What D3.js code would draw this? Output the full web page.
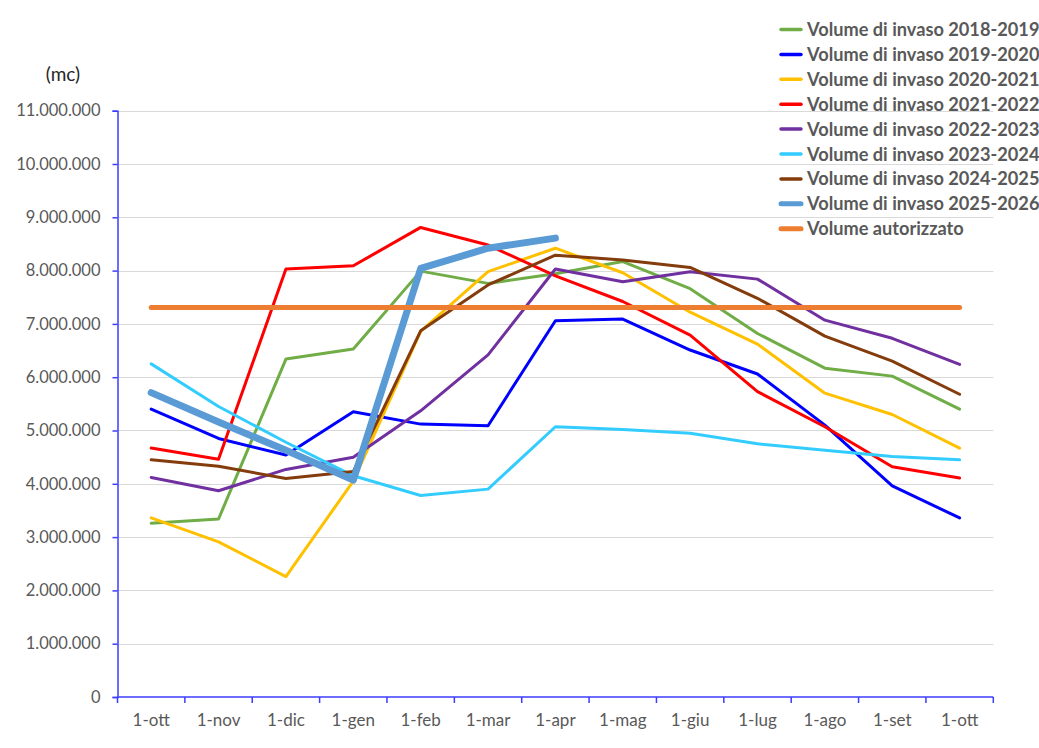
<!DOCTYPE html>
<html>
<head>
<meta charset="utf-8">
<title>Volume di invaso</title>
<script src="https://d3js.org/d3.v7.min.js"></script>
<style>
body { margin: 0; background: #fff; }
text { font-family: Lato, "Open Sans", sans-serif; fill: #595959; }
.line { fill: none; stroke-linejoin: round; stroke-linecap: round; }
</style>
</head>
<body>
<div id="chart"></div>
<script>

// categories (start of each month, october to october)
var months = ["1-ott", "1-nov", "1-dic", "1-gen", "1-feb", "1-mar", "1-apr",
              "1-mag", "1-giu", "1-lug", "1-ago", "1-set", "1-ott "];

// stored volume per season (mc)
var vol1819 = [3260000, 3340000, 6340000, 6530000, 7990000, 7760000, 7940000, 8170000, 7660000, 6820000, 6170000, 6020000, 5400000];
var vol1920 = [5400000, 4850000, 4540000, 5350000, 5120000, 5090000, 7060000, 7090000, 6510000, 6060000, 5100000, 3960000, 3360000];
var vol2021 = [3360000, 2910000, 2260000, 4050000, 6860000, 7980000, 8420000, 7960000, 7220000, 6620000, 5700000, 5300000, 4670000];
var vol2122 = [4670000, 4460000, 8030000, 8090000, 8810000, 8480000, 7900000, 7420000, 6790000, 5730000, 5070000, 4320000, 4110000];
var vol2223 = [4120000, 3870000, 4270000, 4500000, 5370000, 6420000, 8030000, 7790000, 7980000, 7840000, 7070000, 6730000, 6240000];
var vol2324 = [6250000, 5450000, 4780000, 4150000, 3780000, 3900000, 5070000, 5020000, 4950000, 4750000, 4630000, 4510000, 4450000];
var vol2425 = [4450000, 4330000, 4100000, 4230000, 6870000, 7730000, 8290000, 8200000, 8060000, 7480000, 6770000, 6300000, 5680000];
var vol2526 = [5710000, 5160000, 4630000, 4070000, 8040000, 8420000, 8610000];
var authorised = 7310000;

var seriesNames = ["Volume di invaso 2018-2019", "Volume di invaso 2019-2020", "Volume di invaso 2020-2021",
                   "Volume di invaso 2021-2022", "Volume di invaso 2022-2023", "Volume di invaso 2023-2024",
                   "Volume di invaso 2024-2025", "Volume di invaso 2025-2026", "Volume autorizzato"];

var series = [
  {name: seriesNames[0], values: vol1819, color: "#70ad47", width: 3},
  {name: seriesNames[1], values: vol1920, color: "#0000ff", width: 3},
  {name: seriesNames[2], values: vol2021, color: "#ffc000", width: 3},
  {name: seriesNames[3], values: vol2122, color: "#ff0000", width: 3},
  {name: seriesNames[4], values: vol2223, color: "#7030a0", width: 3},
  {name: seriesNames[5], values: vol2324, color: "#33ccff", width: 3},
  {name: seriesNames[6], values: vol2425, color: "#843c0c", width: 3},
  {name: seriesNames[7], values: vol2526, color: "#5b9bd5", width: 7},
  {name: seriesNames[8], values: months.map(function() { return authorised; }), color: "#ed7d31", width: 5}
];

var W = 1039, H = 748;

var svg = d3.select("#chart").append("svg")
    .attr("width", W)
    .attr("height", H)
    .style("display", "block");

svg.append("rect").attr("width", W).attr("height", H).attr("fill", "#fff");

// scales
var x = d3.scaleBand().domain(months).range([117.5, 993.3]).padding(0);
var y = d3.scaleLinear().domain([0, 11000000]).range([697, 110.7]);
function cx(i) { return x(months[i]) + x.bandwidth() / 2; }

var it = d3.formatLocale({decimal: ",", thousands: ".", grouping: [3], currency: ["", "€"]});
var fmt = it.format(",d");
var yTicks = d3.range(0, 11000001, 1000000);

// gridlines
svg.append("g")
  .selectAll("line")
  .data(yTicks.slice(1))
  .enter().append("line")
    .attr("x1", 117.5)
    .attr("x2", 993.3)
    .attr("y1", function(d) { return Math.round(y(d)) + 0.5; })
    .attr("y2", function(d) { return Math.round(y(d)) + 0.5; })
    .attr("stroke", "#d9d9d9")
    .attr("stroke-width", 1.2);

// y axis
var yAxis = svg.append("g")
    .attr("transform", "translate(117.5,0)")
    .call(d3.axisLeft(y).tickValues(yTicks).tickFormat(fmt).tickSize(5).tickPadding(12));
yAxis.select(".domain").attr("stroke", "#3c3cff").attr("stroke-width", 1.5);
yAxis.selectAll(".tick line").attr("stroke", "#3c3cff").attr("stroke-width", 1.5);
yAxis.selectAll(".tick text").style("font-size", "16.5px").style("fill", "#595959").attr("font-family", null);

// x axis: labels centred in each band, ticks at band edges
var xAxis = svg.append("g")
    .attr("transform", "translate(0,697)")
    .call(d3.axisBottom(x).tickSize(0).tickPadding(17).tickSizeOuter(0));
xAxis.select(".domain").remove();
xAxis.selectAll(".tick text").style("font-size", "17px").style("fill", "#595959").attr("font-family", null);

var edges = months.map(function(m) { return x(m); }).concat([x.range()[1]]);
xAxis.append("line")
    .attr("x1", x.range()[0]).attr("x2", x.range()[1])
    .attr("y1", 0).attr("y2", 0)
    .attr("stroke", "#3c3cff").attr("stroke-width", 1.5);
xAxis.selectAll(".edge")
  .data(edges)
  .enter().append("line")
    .attr("class", "edge")
    .attr("x1", function(d) { return d; })
    .attr("x2", function(d) { return d; })
    .attr("y1", 0).attr("y2", 6)
    .attr("stroke", "#3c3cff").attr("stroke-width", 1.5);

// unit label
svg.append("text")
    .attr("x", 63).attr("y", 81)
    .attr("text-anchor", "middle")
    .style("font-size", "19px")
    .style("fill", "#262626")
    .text("(mc)");

// lines
var line = d3.line()
    .x(function(d, i) { return cx(i); })
    .y(function(d) { return y(d); });

svg.append("g")
  .selectAll("path")
  .data(series)
  .enter().append("path")
    .attr("class", "line")
    .attr("d", function(d) { return line(d.values); })
    .attr("stroke", function(d) { return d.color; })
    .attr("stroke-width", function(d) { return d.width; });

// legend
var legend = svg.append("g").attr("transform", "translate(780,29.5)");
var rows = legend.selectAll("g")
  .data(series)
  .enter().append("g")
    .attr("transform", function(d, i) { return "translate(0," + (i * 24.9) + ")"; });
rows.append("line")
    .attr("x1", 1).attr("x2", 21)
    .attr("y1", 0).attr("y2", 0)
    .attr("stroke", function(d) { return d.color; })
    .attr("stroke-width", function(d) { return d.width === 3 ? 3.5 : 5; })
    .attr("stroke-linecap", "round");
rows.append("text")
    .attr("x", 27)
    .attr("dy", "0.36em")
    .style("font-size", "18.2px")
    .style("font-weight", "bold")
    .text(function(d) { return d.name; });

</script>
</body>
</html>
